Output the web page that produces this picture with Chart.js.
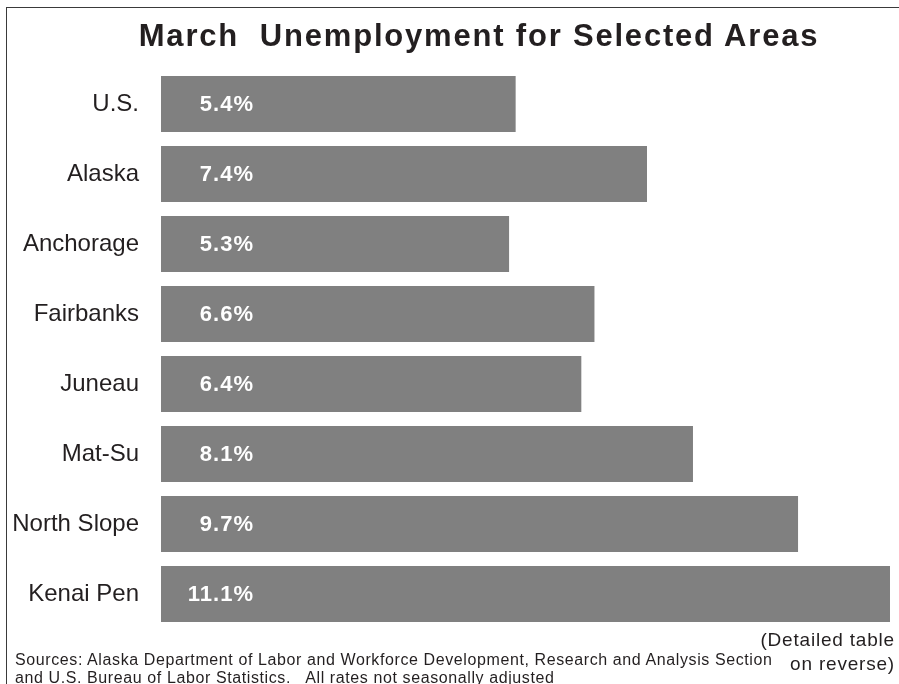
<!DOCTYPE html>
<html>
<head>
<meta charset="utf-8">
<script src="https://cdn.jsdelivr.net/npm/chart.js@4.4.0/dist/chart.umd.min.js"></script>
<style>
  html, body { margin: 0; padding: 0; background: #fff; }
  #wrap { position: relative; width: 899px; height: 684px; overflow: hidden; font-family: "Liberation Sans", Arial, sans-serif; color: #231f20; }
  #frame { position: absolute; left: 5.5px; top: 6.5px; width: 920px; height: 700px; border: 1.5px solid #3a3a3a; }
  #title { position: absolute; left: 0; top: 18px; width: 958px; text-align: center; font-weight: bold; font-size: 31px; letter-spacing: 1.8px; white-space: pre; }
  #src { position: absolute; left: 15px; top: 651px; font-size: 16px; line-height: 17.5px; letter-spacing: 0.6px; white-space: pre; }
  #note { position: absolute; right: 4px; top: 628px; font-size: 19px; line-height: 24px; letter-spacing: 0.8px; text-align: right; }
  canvas { position: absolute; left: 0; top: 0; }
</style>
</head>
<body>
<div id="wrap">
  <div id="frame"></div>
  <canvas id="barChart" width="899" height="684"></canvas>
  <div id="title">March  Unemployment for Selected Areas</div>
  <div id="src">Sources: Alaska Department of Labor and Workforce Development, Research and Analysis Section
and U.S. Bureau of Labor Statistics.   All rates not seasonally adjusted</div>
  <div id="note">(Detailed table<br>on reverse)</div>
</div>
<script>
// areas and their March rates (%)
var areas = ['U.S.', 'Alaska', 'Anchorage', 'Fairbanks', 'Juneau', 'Mat-Su', 'North Slope', 'Kenai Pen'];
var rates = [5.4, 7.4, 5.3, 6.6, 6.4, 8.1, 9.7, 11.1];
var rateLabels = ['5.4%', '7.4%', '5.3%', '6.6%', '6.4%', '8.1%', '9.7%', '11.1%'];

// white value text inside each bar
var valueLabels = {
    id: 'valueLabels',
    afterDatasetsDraw: function (chart) {
        var ctx = chart.ctx;
        var meta = chart.getDatasetMeta(0);
        ctx.save();
        ctx.fillStyle = '#ffffff';
        ctx.font = 'bold 22px "Liberation Sans", Arial, sans-serif';
        ctx.letterSpacing = '1px';
        ctx.textAlign = 'right';
        ctx.textBaseline = 'middle';
        meta.data.forEach(function (bar, i) {
            ctx.fillText(rateLabels[i], chart.chartArea.left + 93, bar.y + 1);
        });
        ctx.restore();
    }
};

new Chart(document.getElementById('barChart'), {
    type: 'bar',
    data: {
        labels: areas,
        datasets: [{
            data: rates,
            backgroundColor: '#808080',
            borderWidth: 0,
            barPercentage: 0.8,
            categoryPercentage: 1.0
        }]
    },
    options: {
        indexAxis: 'y',
        responsive: false,
        animation: false,
        layout: { padding: { top: 69, bottom: 55, right: 9, left: 0 } },
        plugins: {
            legend: { display: false },
            tooltip: { enabled: false }
        },
        scales: {
            x: {
                display: false,
                min: 0,
                max: 11.1
            },
            y: {
                grid: { display: false, drawTicks: false },
                border: { display: false },
                ticks: {
                    color: '#231f20',
                    padding: 22,
                    font: { size: 24, family: '"Liberation Sans", Arial, sans-serif' }
                },
                afterFit: function (scale) { scale.width = 161; }
            }
        }
    },
    plugins: [valueLabels]
});
</script>
</body>
</html>
